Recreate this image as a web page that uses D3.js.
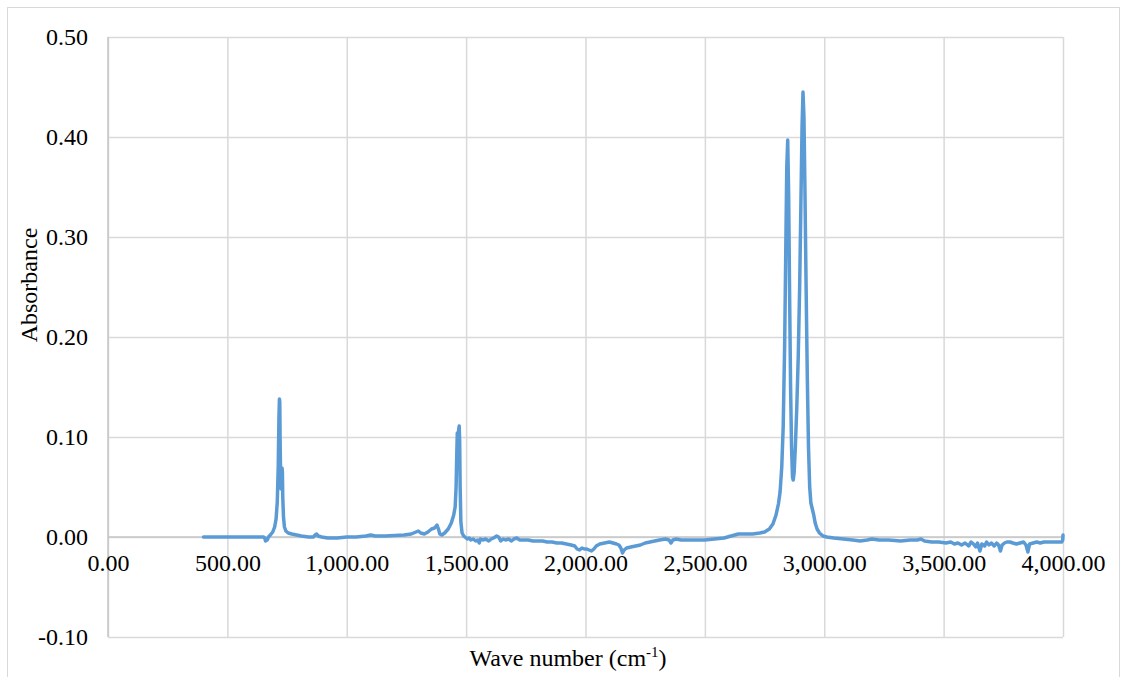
<!DOCTYPE html>
<html>
<head>
<meta charset="utf-8">
<script src="https://cdn.jsdelivr.net/npm/d3@7"></script>
<style>
  html, body { margin: 0; padding: 0; background: #fff; }
  svg { display: block; }
  text { font-family: "Liberation Serif", "Times New Roman", serif; fill: #000; }
</style>
</head>
<body>
<svg id="chart" width="1122" height="677"></svg>
<script>
// FTIR absorbance spectrum: wavenumber (cm-1) and absorbance
const wavenumber = [
  400, 450, 500, 550, 600, 640, 652, 656, 660, 663, 667, 672, 680, 690, 698, 704, 709, 713, 716, 718,
  719.5, 721, 723, 725, 727, 729, 730.5, 732, 735, 739, 745, 755, 770, 790, 810, 840, 860, 868, 874, 880,
  895, 920, 960, 1000, 1040, 1080, 1100, 1120, 1160, 1200, 1240, 1270, 1290, 1300, 1310, 1325, 1340, 1355, 1368, 1378,
  1384, 1390, 1398, 1410, 1425, 1438, 1448, 1454, 1458, 1461, 1463, 1465, 1467, 1469, 1471, 1473, 1475, 1478, 1483, 1490,
  1500, 1505, 1512, 1520, 1530, 1540, 1548, 1555, 1560, 1570, 1582, 1595, 1605, 1615, 1628, 1636, 1645, 1655, 1665, 1678,
  1690, 1700, 1712, 1725, 1740, 1760, 1780, 1800, 1820, 1840, 1860, 1880, 1900, 1920, 1940, 1955, 1965, 1975, 1985, 1995,
  2005, 2015, 2025, 2035, 2045, 2060, 2080, 2100, 2115, 2130, 2140, 2148, 2155, 2162, 2172, 2190, 2210, 2230, 2250, 2270,
  2290, 2310, 2335, 2350, 2358, 2366, 2380, 2400, 2450, 2500, 2540, 2580, 2610, 2640, 2670, 2700, 2730, 2750, 2770, 2785,
  2798, 2808, 2815, 2822, 2828, 2834, 2839, 2843, 2847, 2851, 2855, 2859, 2863, 2867, 2870, 2874, 2879, 2885, 2891, 2897,
  2902, 2907, 2911, 2915, 2919, 2924, 2929, 2934, 2939, 2944, 2950, 2956, 2962, 2970, 2980, 2995, 3010, 3040, 3080, 3120,
  3150, 3180, 3200, 3230, 3270, 3320, 3360, 3390, 3405, 3420, 3450, 3480, 3510, 3530, 3545, 3560, 3575, 3590, 3605, 3615,
  3625, 3635, 3642, 3652, 3660, 3672, 3680, 3690, 3700, 3712, 3722, 3730, 3738, 3745, 3755, 3765, 3778, 3790, 3805, 3820,
  3835, 3845, 3853, 3860, 3875, 3890, 3905, 3920, 3940, 3960, 3980, 3995, 3999, 4000
];
const absorbance = [
  0.000, 0.000, 0.000, 0.000, 0.000, 0.000, 0.000, -0.001, -0.004, -0.002, -0.003, 0.000, 0.002, 0.005, 0.010, 0.018, 0.035, 0.070, 0.120, 0.138,
  0.135, 0.095, 0.060, 0.048, 0.055, 0.069, 0.065, 0.040, 0.020, 0.010, 0.006, 0.004, 0.003, 0.002, 0.001, 0.000, 0.000, 0.002, 0.003, 0.001,
  0.000, -0.001, -0.001, 0.000, 0.000, 0.001, 0.002, 0.001, 0.001, 0.0015, 0.002, 0.003, 0.005, 0.006, 0.004, 0.003, 0.005, 0.008, 0.009, 0.012,
  0.008, 0.003, 0.002, 0.004, 0.008, 0.014, 0.022, 0.030, 0.050, 0.085, 0.104, 0.098, 0.102, 0.108, 0.111, 0.095, 0.050, 0.015, 0.004, 0.001,
  -0.001, -0.002, -0.001, -0.003, -0.002, -0.004, -0.003, -0.006, -0.002, -0.003, -0.002, -0.004, -0.002, -0.001, 0.001, 0.000, -0.004, -0.002, -0.003, -0.002,
  -0.004, -0.002, -0.001, -0.003, -0.003, -0.003, -0.004, -0.004, -0.004, -0.005, -0.005, -0.006, -0.006, -0.007, -0.008, -0.009, -0.012, -0.013, -0.011, -0.012,
  -0.012, -0.013, -0.014, -0.012, -0.009, -0.007, -0.006, -0.005, -0.006, -0.007, -0.008, -0.011, -0.016, -0.013, -0.011, -0.010, -0.009, -0.008, -0.006, -0.005,
  -0.004, -0.003, -0.002, -0.003, -0.006, -0.003, -0.002, -0.003, -0.003, -0.003, -0.002, -0.001, 0.001, 0.003, 0.003, 0.003, 0.004, 0.005, 0.008, 0.013,
  0.022, 0.033, 0.045, 0.070, 0.110, 0.190, 0.290, 0.370, 0.397, 0.340, 0.240, 0.150, 0.090, 0.060, 0.057, 0.065, 0.090, 0.130, 0.180, 0.250,
  0.330, 0.410, 0.445, 0.420, 0.350, 0.250, 0.160, 0.090, 0.050, 0.034, 0.028, 0.022, 0.014, 0.008, 0.004, 0.001, 0.000, -0.001, -0.002, -0.003,
  -0.004, -0.003, -0.002, -0.003, -0.003, -0.004, -0.003, -0.003, -0.002, -0.004, -0.005, -0.005, -0.006, -0.005, -0.007, -0.006, -0.008, -0.006, -0.009, -0.005,
  -0.007, -0.010, -0.006, -0.014, -0.007, -0.009, -0.005, -0.008, -0.006, -0.009, -0.006, -0.008, -0.014, -0.008, -0.006, -0.005, -0.005, -0.006, -0.007, -0.006,
  -0.005, -0.008, -0.015, -0.007, -0.006, -0.005, -0.006, -0.005, -0.005, -0.005, -0.005, -0.005, -0.003, 0.002
];

const xTicks = [0, 500, 1000, 1500, 2000, 2500, 3000, 3500, 4000];
const yTicks = [-0.10, 0.00, 0.10, 0.20, 0.30, 0.40, 0.50];
const xTitle = "Wave number (cm";
const xTitleSup = "-1";
const yTitle = "Absorbance";

const svg = d3.select("#chart");
const plot = { left: 108, right: 1063, top: 37, bottom: 637 };
const FONT = "Liberation Serif, Times New Roman, serif";
const FS = 24;

const x = d3.scaleLinear().domain([0, 4000]).range([plot.left, plot.right]);
const y = d3.scaleLinear().domain([-0.10, 0.50]).range([plot.bottom, plot.top]);

// number formats with a plain hyphen for negatives
const locale = d3.formatLocale({ decimal: ".", thousands: ",", grouping: [3], currency: ["", ""], minus: "-" });
const fmtY = locale.format(".2f");
const fmtX = locale.format(",.2f");

// chart area border
svg.append("rect")
  .attr("x", 7.5).attr("y", 7.5)
  .attr("width", 1112).attr("height", 690)
  .attr("fill", "none").attr("stroke", "#d9d9d9").attr("stroke-width", 1);

// horizontal gridlines
svg.append("g")
  .attr("transform", `translate(${plot.left},0)`)
  .call(d3.axisLeft(y).tickValues(yTicks).tickSize(-(plot.right - plot.left)).tickFormat(""))
  .call(g => g.select(".domain").remove())
  .call(g => g.selectAll("line").attr("stroke", "#d9d9d9").attr("stroke-width", 1.5));

// vertical gridlines
svg.append("g")
  .attr("transform", `translate(0,${plot.bottom})`)
  .call(d3.axisBottom(x).tickValues(xTicks).tickSize(-(plot.bottom - plot.top)).tickFormat(""))
  .call(g => g.select(".domain").remove())
  .call(g => g.selectAll("line").attr("stroke", "#d9d9d9").attr("stroke-width", 1.5));

// axis lines (value axis at x = 0, category axis crossing at y = 0)
svg.append("line")
  .attr("x1", x(0)).attr("x2", x(0)).attr("y1", plot.top).attr("y2", plot.bottom)
  .attr("stroke", "#c6c6c6").attr("stroke-width", 1.5);
svg.append("line")
  .attr("x1", plot.left).attr("x2", plot.right).attr("y1", y(0)).attr("y2", y(0))
  .attr("stroke", "#c6c6c6").attr("stroke-width", 1.5);

// y tick labels
svg.append("g")
  .attr("transform", `translate(${plot.left},0)`)
  .call(d3.axisLeft(y).tickValues(yTicks).tickSize(0).tickPadding(20).tickFormat(fmtY))
  .call(g => g.select(".domain").remove())
  .call(g => g.selectAll("text")
    .attr("font-family", FONT).attr("font-size", FS).attr("fill", "#000"));

// x tick labels, placed just below the zero line
svg.append("g")
  .attr("transform", `translate(0,${y(0)})`)
  .call(d3.axisBottom(x).tickValues(xTicks).tickSize(0).tickPadding(17).tickFormat(fmtX))
  .call(g => g.select(".domain").remove())
  .call(g => g.selectAll("text")
    .attr("font-family", FONT).attr("font-size", FS).attr("fill", "#000"));

// spectrum line
const pts = wavenumber.map((w, i) => [w, absorbance[i]]);
svg.append("path")
  .datum(pts)
  .attr("fill", "none")
  .attr("stroke", "#5b9bd5")
  .attr("stroke-width", 3.5)
  .attr("stroke-linejoin", "round")
  .attr("stroke-linecap", "round")
  .attr("d", d3.line().x(d => x(d[0])).y(d => y(d[1])));

// axis titles
const xt = svg.append("text")
  .attr("x", 568).attr("y", 666)
  .attr("text-anchor", "middle")
  .attr("font-size", FS);
xt.append("tspan").text(xTitle);
xt.append("tspan").attr("font-size", 15).attr("dy", -9).text(xTitleSup);
xt.append("tspan").attr("dy", 9).text(")");

svg.append("text")
  .attr("transform", "translate(37,285) rotate(-90)")
  .attr("text-anchor", "middle")
  .attr("font-size", FS)
  .text(yTitle);
</script>
</body>
</html>
